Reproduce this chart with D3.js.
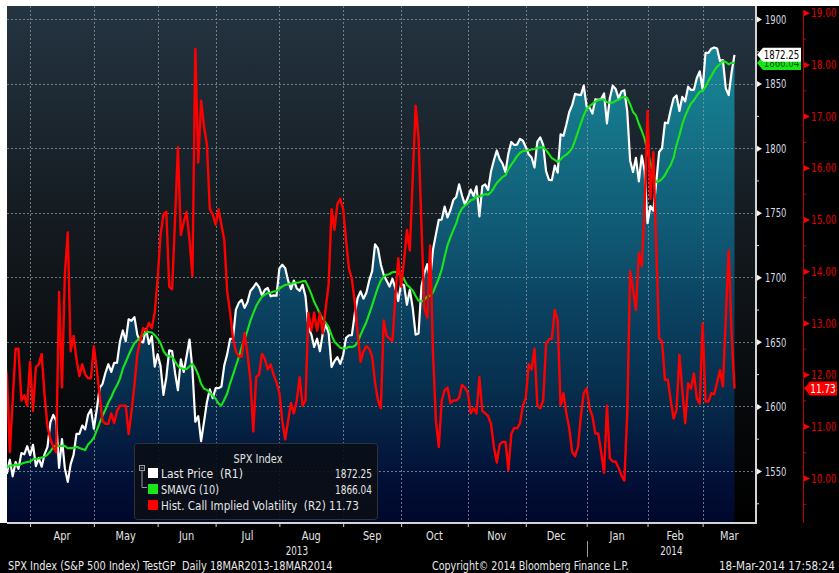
<!DOCTYPE html>
<html>
<head>
<meta charset="utf-8">
<script src="https://cdn.jsdelivr.net/npm/d3@7"></script>
<style>
  body { margin: 0; background: #fff; }
  svg { display: block; }
  text { font-family: 'Liberation Sans Narrow', 'DejaVu Sans Condensed', 'Arial Narrow', sans-serif; }
</style>
</head>
<body>
<svg id="chart"></svg>
<script>
// SPX daily close, 18 Mar 2013 - 18 Mar 2014 (one value per trading day)
const lastPrice = [
  1552.1,1548.3,1558.7,1545.8,1556.9,1551.7,1563.8,1562.9,1569.2,1562.2,
  1570.3,1553.7,1560.0,1553.3,1563.1,1568.6,1587.7,1593.4,1588.9,1552.4,
  1574.6,1552.0,1541.6,1555.3,1562.5,1578.8,1578.8,1585.2,1582.2,1593.6,
  1597.6,1582.7,1597.6,1614.4,1617.5,1626.0,1632.7,1626.7,1633.7,1633.8,
  1650.3,1658.8,1650.5,1667.5,1666.3,1669.2,1655.4,1650.5,1649.6,1660.1,
  1648.4,1654.4,1630.7,1640.4,1631.4,1608.9,1622.6,1643.4,1642.8,1626.1,
  1612.5,1636.4,1626.7,1639.0,1651.8,1628.9,1588.2,1592.4,1573.1,1588.0,
  1603.3,1613.2,1606.3,1614.1,1614.1,1615.4,1631.9,1640.5,1652.3,1652.6,
  1675.0,1680.2,1682.5,1676.3,1680.9,1689.4,1692.1,1695.5,1692.4,1685.9,
  1690.3,1691.7,1685.3,1686.0,1685.7,1706.9,1709.7,1707.1,1697.4,1690.9,
  1697.5,1691.4,1689.5,1694.2,1685.4,1661.3,1655.8,1646.1,1652.4,1642.8,
  1657.0,1663.5,1656.8,1630.5,1635.0,1638.2,1633.0,1639.8,1653.1,1655.1,
  1655.2,1671.7,1684.0,1689.1,1683.4,1688.0,1697.6,1704.8,1725.5,1722.3,
  1709.9,1701.8,1697.4,1692.8,1698.7,1691.8,1681.6,1695.0,1693.9,1678.7,
  1690.5,1676.1,1655.5,1656.4,1692.6,1703.2,1710.1,1698.1,1721.5,1733.2,
  1744.5,1744.7,1754.7,1746.4,1752.1,1759.8,1762.1,1771.9,1763.3,1756.5,
  1761.6,1767.9,1763.0,1770.5,1747.2,1770.6,1771.9,1767.7,1782.0,1790.6,
  1798.2,1791.5,1787.9,1781.4,1795.9,1804.8,1802.5,1802.8,1807.2,1805.8,
  1800.9,1795.2,1792.8,1785.0,1805.1,1808.4,1802.6,1782.2,1775.5,1775.3,
  1786.5,1781.0,1810.7,1809.6,1818.3,1828.0,1833.3,1842.0,1841.4,1841.1,
  1848.4,1832.0,1831.4,1826.8,1837.9,1837.5,1838.1,1842.4,1819.2,1838.9,
  1848.4,1845.9,1838.7,1843.8,1844.9,1828.5,1790.3,1781.6,1792.5,1774.2,
  1794.2,1782.6,1741.9,1755.2,1751.6,1773.4,1797.0,1799.8,1819.8,1819.3,
  1829.8,1838.6,1840.8,1828.8,1839.8,1836.3,1847.6,1845.1,1845.2,1854.3,
  1859.5,1845.7,1873.9,1873.8,1877.0,1878.0,1877.2,1867.6,1868.2,1846.3,
  1841.1,1858.8,1872.25
];

// SMAVG (10)
const smavg = [
  1551.6,1552.5,1554.2,1554.3,1554.9,1554.4,1555.6,1556.4,1557.0,1557.2,
  1559.0,1559.5,1559.7,1560.4,1561.0,1562.7,1565.1,1568.2,1570.1,1569.1,
  1569.6,1569.4,1567.6,1567.8,1567.7,1568.7,1567.8,1567.0,1566.3,1570.5,
  1572.8,1575.8,1581.4,1587.3,1592.8,1597.6,1603.0,1607.1,1612.3,1616.3,
  1621.5,1629.2,1634.4,1639.8,1644.6,1649.0,1651.2,1653.6,1655.2,1657.8,
  1657.6,1657.2,1655.2,1652.5,1649.0,1643.0,1639.7,1639.0,1638.3,1634.9,
  1631.3,1629.5,1629.1,1629.0,1631.0,1633.0,1629.6,1624.5,1617.5,1613.7,
  1612.8,1610.5,1608.4,1605.9,1602.2,1600.8,1605.2,1610.0,1617.9,1624.4,
  1631.5,1638.2,1645.9,1652.1,1658.8,1666.2,1672.2,1677.7,1681.7,1685.0,
  1686.6,1687.7,1688.0,1689.0,1689.4,1691.2,1692.9,1694.1,1694.6,1695.1,
  1695.8,1695.8,1696.2,1697.0,1697.0,1692.4,1687.1,1681.0,1676.5,1671.6,
  1667.6,1664.8,1661.5,1655.2,1650.1,1647.8,1645.5,1644.9,1645.0,1646.2,
  1646.0,1646.8,1649.6,1655.4,1660.3,1665.2,1671.7,1678.2,1685.4,1692.2,
  1697.6,1700.6,1702.0,1702.4,1703.9,1704.3,1702.7,1701.7,1698.5,1694.2,
  1692.2,1689.7,1685.5,1681.8,1681.2,1682.4,1685.2,1685.5,1688.3,1693.7,
  1699.1,1706.0,1715.9,1724.9,1730.9,1736.5,1741.7,1749.1,1753.3,1755.6,
  1757.3,1759.6,1760.5,1762.9,1762.4,1763.5,1764.4,1764.0,1765.9,1769.3,
  1773.0,1775.3,1777.8,1778.9,1783.8,1787.2,1790.3,1793.8,1796.3,1797.8,
  1798.1,1798.4,1798.9,1799.3,1800.2,1800.6,1800.6,1798.5,1795.4,1792.3,
  1790.9,1789.4,1791.2,1793.7,1795.0,1797.0,1800.0,1806.0,1812.6,1819.2,
  1825.4,1830.5,1832.6,1834.3,1836.2,1837.2,1837.7,1837.7,1835.5,1835.3,
  1835.3,1836.7,1837.4,1839.1,1839.8,1838.9,1834.1,1828.0,1825.4,1818.9,
  1813.5,1807.1,1797.5,1788.6,1779.3,1773.8,1774.4,1776.2,1779.0,1783.5,
  1787.0,1792.6,1802.5,1809.9,1818.7,1825.0,1830.1,1834.6,1837.1,1840.6,
  1843.6,1844.3,1847.6,1852.1,1855.8,1860.0,1863.0,1865.2,1867.5,1866.7,
  1864.9,1866.2,1866.04
];

// Hist. Call Implied Volatility (right-hand red scale)
const impliedVol = [
  12.3,12.0,10.5,11.5,12.5,12.5,11.5,11.6,11.4,12.25,
  11.3,12.15,12.2,12.4,11.6,11.0,10.75,10.6,10.5,13.6,
  11.75,13.95,14.75,12.45,12.75,12.3,11.97,12.2,12.0,11.93,
  11.93,12.55,12.1,11.6,11.1,11.05,11.05,11.25,11.06,11.3,
  11.4,11.4,11.4,10.85,11.3,11.8,12.4,12.65,12.9,12.85,
  13.0,12.9,13.2,13.85,14.7,15.1,15.15,13.7,13.65,15.0,
  16.4,14.7,14.95,15.15,14.6,13.9,18.3,16.1,17.3,16.8,
  16.45,15.2,15.1,14.9,15.2,14.9,14.6,13.6,13.2,12.7,
  12.45,12.35,12.35,12.8,12.4,11.9,10.9,11.95,12.0,12.4,
  12.3,12.1,12.2,12.0,11.85,11.65,11.1,10.75,11.1,11.45,
  11.25,11.5,11.95,11.4,11.5,13.2,12.85,13.2,12.85,13.2,
  12.8,13.3,13.75,15.2,14.8,15.3,15.4,15.2,14.6,14.05,
  13.85,13.4,12.8,12.25,12.45,12.55,12.5,12.35,11.85,11.5,
  11.35,13.05,12.75,12.7,12.65,13.5,14.25,13.7,14.2,14.8,
  14.4,15.8,17.2,16.6,14.9,13.3,13.1,14.5,12.4,11.1,
  10.6,11.5,11.7,11.75,11.45,11.5,11.5,11.55,11.8,11.75,
  11.65,11.25,11.35,11.25,11.95,11.3,11.25,11.2,11.05,10.6,
  10.3,10.65,10.7,10.7,10.15,10.85,10.97,10.96,11.06,11.4,
  11.55,12.2,12.1,12.5,11.4,11.35,11.5,12.6,12.68,12.7,
  13.25,13.05,11.4,11.64,11.25,10.96,10.5,10.42,10.6,11.2,
  11.64,11.73,11.35,11.19,10.86,10.86,10.5,10.1,11.4,10.38,
  10.32,10.32,10.2,10.05,9.95,11.25,14.0,13.65,13.25,14.35,
  14.1,15.25,17.1,15.4,16.3,14.5,12.7,12.64,11.9,11.9,
  11.5,11.15,11.32,12.38,11.7,11.06,11.83,11.73,12.02,11.54,
  11.44,12.99,11.48,11.48,11.64,11.62,11.85,12.09,11.77,13.1,
  14.4,12.8,11.73
];

// first trading day of each month (index into the daily arrays)
const monthNames = ["Apr","May","Jun","Jul","Aug","Sep","Oct","Nov","Dec","Jan","Feb","Mar"];
const monthStart = [9,31,53,73,95,117,137,160,180,201,222,241];
const yearNames = ["2013","2014"];
const yearStart = [0,201];

const priceTicks = [1550,1600,1650,1700,1750,1800,1850,1900];
const priceMinor = [1525,1575,1625,1675,1725,1775,1825,1875];
const volTicks = [10,11,12,13,14,15,16,17,18,19];
const volMinor = [9.5,10.5,11.5,12.5,13.5,14.5,15.5,16.5,17.5,18.5];

const W = 839, H = 573;
const plot = {left: 7, top: 6, right: 756, bottom: 523};
const lastIdx = lastPrice.length - 1;

//Bloomberg's font is tall and narrow: squeeze each text sideways around its anchor
function squeeze(sel, width) {
    sel.each(function (d) {
        let w = typeof width === "function" ? width.call(this, d) : width;
        let w0 = this.getComputedTextLength();
        if (!w0) return;
        let ax = +this.getAttribute("x") || 0;
        d3.select(this).attr("transform", `translate(${ax},0) scale(${w / w0},1) translate(${-ax},0)`);
    });
}
//digits take a fixed width each
const perChar = cw => function () { return this.textContent.length * cw; };
const ratio = f => function () { return this.getComputedTextLength() * f; };

let svg = d3.select("#chart").attr("width", W).attr("height", H);
let defs = svg.append("defs");

//gradients for the plot background and the area under the price
let bgGrad = defs.append("linearGradient").attr("id","bgGrad")
    .attr("gradientUnits","userSpaceOnUse")
    .attr("x1",0).attr("x2",0).attr("y1",plot.top).attr("y2",plot.bottom);
[[0,"#243441"],[0.45,"#13191e"],[0.8,"#06080a"],[1,"#000000"]]
    .forEach(s => bgGrad.append("stop").attr("offset",s[0]).attr("stop-color",s[1]));

let areaGrad = defs.append("linearGradient").attr("id","areaGrad")
    .attr("gradientUnits","userSpaceOnUse")
    .attr("x1",0).attr("x2",0).attr("y1",plot.top).attr("y2",plot.bottom);
[[0,"#1a909f"],[0.18,"#167b8e"],[0.47,"#0f5470"],[0.57,"#0b4462"],[0.73,"#07304f"],[0.92,"#020f36"],[1,"#00072b"]]
    .forEach(s => areaGrad.append("stop").attr("offset",s[0]).attr("stop-color",s[1]));

defs.append("clipPath").attr("id","plotClip")
    .append("rect")
    .attr("x",plot.left).attr("y",plot.top)
    .attr("width",plot.right-plot.left).attr("height",plot.bottom-plot.top);

//frame: white strips top and left, black everywhere else
svg.append("rect").attr("width",W).attr("height",H).attr("fill","#fff");
svg.append("rect").attr("x",plot.left).attr("y",plot.top)
    .attr("width",W-plot.left).attr("height",H-plot.top).attr("fill","#000");
svg.append("rect").attr("x",0).attr("y",plot.bottom)
    .attr("width",W).attr("height",H-plot.bottom).attr("fill","#000");
svg.append("rect").attr("x",plot.left).attr("y",plot.top)
    .attr("width",plot.right-plot.left).attr("height",plot.bottom-plot.top)
    .attr("fill","url(#bgGrad)");

//scales
let x = d3.scaleLinear().domain([0, lastIdx]).range([4, 734.5]);
let yP = d3.scaleLinear().domain([1509.7, 1910.1]).range([plot.bottom, plot.top]);
let yV = d3.scaleLinear().domain([9.13, 19.13]).range([plot.bottom, plot.top]);

let g = svg.append("g").attr("clip-path","url(#plotClip)");

//area under last price
g.append("path")
    .datum(lastPrice)
    .attr("fill","url(#areaGrad)")
    .attr("d", d3.area().x((d,i) => x(i)).y0(plot.bottom).y1(d => yP(d)));

//dotted grid
g.selectAll(".hgrid").data(priceTicks).join("line")
    .attr("x1",plot.left).attr("x2",plot.right)
    .attr("y1",d => Math.round(yP(d))+0.5).attr("y2",d => Math.round(yP(d))+0.5)
    .attr("stroke","#8e99a3").attr("stroke-opacity",0.75)
    .attr("stroke-dasharray","2,2");
g.selectAll(".vgrid").data(monthStart).join("line")
    .attr("x1",d => Math.round(x(d))+0.5).attr("x2",d => Math.round(x(d))+0.5)
    .attr("y1",plot.top).attr("y2",plot.bottom)
    .attr("stroke","#8e99a3").attr("stroke-opacity",0.75)
    .attr("stroke-dasharray","2,2");

//series lines
let priceLine = d3.line().x((d,i) => x(i)).y(d => yP(d));
let volLine = d3.line().x((d,i) => x(i)).y(d => yV(d));

g.append("path").datum(lastPrice).attr("d",priceLine)
    .attr("fill","none").attr("stroke","#ffffff").attr("stroke-width",2.2).attr("stroke-linejoin","round");
g.append("path").datum(smavg).attr("d",priceLine)
    .attr("fill","none").attr("stroke","#19e619").attr("stroke-width",2.1).attr("stroke-linejoin","round");
g.append("path").datum(impliedVol).attr("d",volLine)
    .attr("fill","none").attr("stroke","#ff0000").attr("stroke-width",2.4).attr("stroke-linejoin","round");

//price axis (R1)
svg.append("line").attr("x1",plot.right).attr("x2",plot.right)
    .attr("y1",plot.top).attr("y2",plot.bottom+1)
    .attr("stroke","#d4d4d4").attr("stroke-width",2);
svg.append("line").attr("x1",plot.left).attr("x2",plot.right+1)
    .attr("y1",plot.bottom).attr("y2",plot.bottom)
    .attr("stroke","#d4d4d4").attr("stroke-width",2);

let pAxis = svg.append("g").attr("transform",`translate(${plot.right},0)`)
    .call(d3.axisRight(yP).tickValues(priceTicks).tickSize(0).tickPadding(9).tickFormat(d3.format("d")));
pAxis.select(".domain").remove();
pAxis.selectAll("text").attr("fill","#d6dde4").attr("font-size","13px")
    .style("font-family","'Liberation Sans Narrow','DejaVu Sans Condensed',sans-serif")
    .call(squeeze, perChar(5.35));
pAxis.selectAll(".tick").append("path").attr("d","M1,-3L6,0L1,3Z").attr("fill","#f0f0f0");

let pMinor = svg.append("g").attr("transform",`translate(${plot.right},0)`)
    .call(d3.axisRight(yP).tickValues(priceMinor).tickSize(3).tickFormat(""));
pMinor.select(".domain").remove();
pMinor.selectAll("line").attr("stroke","#d4d4d4");

//volatility axis (R2)
let volX = 803;
let vAxis = svg.append("g").attr("transform",`translate(${volX},0)`)
    .call(d3.axisRight(yV).tickValues(volTicks).tickSize(0).tickPadding(8).tickFormat(d3.format(".2f")));
vAxis.select(".domain").attr("d",`M0.5,${plot.top+4}V${plot.bottom}`).attr("stroke","#c80000");
vAxis.selectAll("text").attr("fill","#e00000").attr("font-size","13px")
    .style("font-family","'Liberation Sans Narrow','DejaVu Sans Condensed',sans-serif")
    .call(squeeze, perChar(5.1));
vAxis.selectAll(".tick").append("path").attr("d","M1,-3L7,0L1,3Z").attr("fill","#ff0000");

let vMinor = svg.append("g").attr("transform",`translate(${volX},0)`)
    .call(d3.axisRight(yV).tickValues(volMinor).tickSize(3).tickFormat(""));
vMinor.select(".domain").remove();
vMinor.selectAll("line").attr("stroke","#c80000");

//bottom axis: month ticks, labels in the middle of each month
let xAxis = svg.append("g").attr("transform",`translate(0,${plot.bottom})`)
    .call(d3.axisBottom(x).tickValues(monthStart).tickSize(4).tickFormat(""));
xAxis.select(".domain").remove();
xAxis.selectAll("line").attr("stroke","#d4d4d4");

let monthEdges = monthStart.map(d => x(d)).concat([plot.right]);
svg.selectAll(".month").data(monthNames).join("text")
    .attr("x",(d,i) => (monthEdges[i] + monthEdges[i+1]) / 2)
    .attr("y",540)
    .attr("text-anchor","middle")
    .attr("fill","#e4e4e4").attr("font-size","13px")
    .text(d => d)
    .call(squeeze, ratio(0.84));

let yearEdges = [plot.left, x(yearStart[1]), plot.right];
svg.selectAll(".year").data(yearNames).join("text")
    .attr("x",(d,i) => (yearEdges[i] + yearEdges[i+1]) / 2)
    .attr("y",555)
    .attr("text-anchor","middle")
    .attr("fill","#e4e4e4").attr("font-size","13px")
    .text(d => d)
    .call(squeeze, perChar(5.6));
svg.append("line")
    .attr("x1",Math.round(x(yearStart[1]))+0.5).attr("x2",Math.round(x(yearStart[1]))+0.5)
    .attr("y1",541).attr("y2",557)
    .attr("stroke","#9a9a9a");

//last value tags on the right axes
function tag(xTip, xEnd, yc, fill, textColor, label) {
    svg.append("path")
        .attr("d",`M${xTip},${yc}L${xTip+6},${yc-7}H${xEnd}V${yc+7}H${xTip+6}Z`)
        .attr("fill",fill);
    svg.append("text")
        .attr("x",(xTip + 5 + xEnd) / 2).attr("y",yc + 4.5)
        .attr("text-anchor","middle")
        .attr("fill",textColor).attr("font-size","13px")
        .text(label)
        .call(squeeze, perChar(5.1));
}
tag(757, 801, yP(smavg[lastIdx]), "#19e619", "#0a5a0a", d3.format(".2f")(smavg[lastIdx]));
tag(757, 801, yP(lastPrice[lastIdx]), "#ffffff", "#000000", d3.format(".2f")(lastPrice[lastIdx]));
tag(804, 837, yV(impliedVol[lastIdx]), "#ff0000", "#ffffff", d3.format(".2f")(impliedVol[lastIdx]));

//legend
let legend = svg.append("g");
legend.append("rect")
    .attr("x",134.5).attr("y",443.5).attr("width",243).attr("height",76).attr("rx",3)
    .attr("fill","#0a0e16").attr("fill-opacity",0.9)
    .attr("stroke","#2c333c");
legend.append("text").attr("x",258).attr("y",463).attr("text-anchor","middle")
    .attr("fill","#e0e0e0").attr("font-size","13px").text("SPX Index")
    .call(squeeze, 49);

let rows = [
    {color:"#ffffff", label:"Last Price  (R1)", w:82, value:d3.format(".2f")(lastPrice[lastIdx])},
    {color:"#19e619", label:"SMAVG (10)", w:58, value:d3.format(".2f")(smavg[lastIdx])},
    {color:"#ff0000", label:"Hist. Call Implied Volatility  (R2) " + d3.format(".2f")(impliedVol[lastIdx]), w:198, value:""}
];
rows.forEach((r,i) => {
    let yy = 478 + i * 16;
    legend.append("rect").attr("x",148).attr("y",yy-10).attr("width",10).attr("height",10).attr("fill",r.color);
    legend.append("text").attr("x",161).attr("y",yy).attr("fill","#e6e6e6")
        .attr("font-size","13px").style("white-space","pre").text(r.label)
        .call(squeeze, r.w);
    if (r.value) {
        legend.append("text").attr("x",372).attr("y",yy).attr("text-anchor","end")
            .attr("fill","#e6e6e6").attr("font-size","13px").text(r.value)
            .call(squeeze, 37);
    }
});
//small tree icon
legend.append("rect").attr("x",139.5).attr("y",465.5).attr("width",5).attr("height",5)
    .attr("fill","none").attr("stroke","#9a9a9a");
legend.append("line").attr("x1",140.5).attr("x2",143.5).attr("y1",468).attr("y2",468).attr("stroke","#9a9a9a");
legend.append("path").attr("d","M142,471V487.5H147").attr("fill","none").attr("stroke","#9a9a9a");

//footer
svg.append("text").attr("x",8).attr("y",570).attr("fill","#e8e8e8").attr("font-size","12.5px")
    .style("white-space","pre").text("SPX Index (S&P 500 Index) TestGP  Daily 18MAR2013-18MAR2014")
    .call(squeeze, 325);
svg.append("text").attr("x",432).attr("y",570).attr("fill","#e8e8e8").attr("font-size","12.5px")
    .text("Copyright\u00a9 2014 Bloomberg Finance L.P.")
    .call(squeeze, 197);
svg.append("text").attr("x",719).attr("y",570).attr("fill","#e8e8e8").attr("font-size","12.5px")
    .text("18-Mar-2014 17:58:24")
    .call(squeeze, 116);
</script>
</body>
</html>
